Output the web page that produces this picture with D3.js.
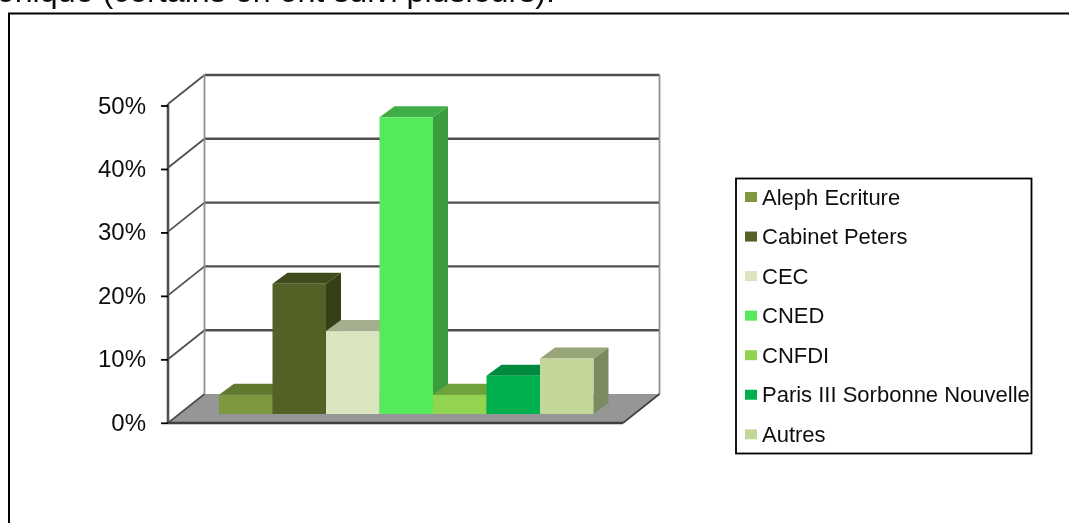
<!DOCTYPE html>
<html>
<head>
<meta charset="utf-8">
<script src="https://cdn.jsdelivr.net/npm/d3@7"></script>
<style>
html,body{margin:0;padding:0;background:#fff;overflow:hidden;}
svg{display:block;}
text{font-family:"Liberation Sans",Arial,sans-serif;fill:#111;}
</style>
</head>
<body>
<div id="chart"></div>
<script>
let categories = ["Aleph Ecriture","Cabinet Peters","CEC","CNED","CNFDI","Paris III Sorbonne Nouvelle","Autres"];
let values = [3,20.4,13,46.5,3,6,8.7];
let frontColors = ["#7d993f","#526128","#dae5bf","#55ea5b","#92d450","#00b050","#c4d79b"];
let topColors = ["#5f7a2d","#3f4c1c","#a6ae90","#3fae44","#6ea33a","#008a3e","#98a578"];
let sideColors = ["#5a7329","#343f15","#a5ad8e","#3a9c3f","#689a36","#007a36","#7c8a60"];
let yTicks = [0,10,20,30,40,50];

let width = 1069, height = 523;

let svg = d3.select("#chart").append("svg")
    .attr("width", width)
    .attr("height", height);

let defs = svg.append("defs");
defs.append("filter").attr("id","soft")
    .attr("x","-5%").attr("y","-5%").attr("width","110%").attr("height","110%")
    .append("feGaussianBlur").attr("stdDeviation",0.65);
defs.append("filter").attr("id","softText")
    .attr("x","-5%").attr("y","-5%").attr("width","110%").attr("height","110%")
    .append("feGaussianBlur").attr("stdDeviation",0.35);

//outer frame, runs off the page at the right and the bottom
svg.append("path")
    .attr("d","M9,"+(height+5)+"V13.4H"+(width+5))
    .attr("fill","none")
    .attr("stroke","#000")
    .attr("stroke-width",2);

//caption above, cut by the top of the page
svg.append("text")
    .attr("x",555)
    .attr("y",1.5)
    .attr("text-anchor","end")
    .attr("font-size",32.2)
    .attr("filter","url(#softText)")
    .text("\u00e9lectronique (certains en ont suivi plusieurs).");

let plot = svg.append("g").attr("filter","url(#soft)");

//y goes along the front edge of the box
let y = d3.scaleLinear().domain([0,50]).range([423,104]);
//the tick marks sit a little lower than the wall lines at the top
let yTick = d3.scaleLinear().domain([0,50]).range([423.3,106]);
let floorLeft = 168, floorRight = 623;
let depthX = 36.5, depthY = -29;

//floor
plot.append("path")
    .attr("d","M"+floorLeft+","+y(0)+"L"+(floorLeft+depthX)+","+(y(0)+depthY)
        +"H"+(floorRight+depthX)+"L"+floorRight+","+y(0)+"Z")
    .attr("fill","#969696");

//back wall gridlines and the side wall lines
yTicks.forEach(function(d){
    let yBack = y(d)+depthY;
    if(d>0){
        plot.append("line")
            .attr("x1",floorLeft+depthX).attr("x2",floorRight+depthX)
            .attr("y1",yBack).attr("y2",yBack)
            .attr("stroke","#505050").attr("stroke-width",2.4);
    }
    plot.append("line")
        .attr("x1",floorLeft).attr("x2",floorLeft+depthX)
        .attr("y1",y(d)).attr("y2",yBack)
        .attr("stroke","#505050").attr("stroke-width",1.8);
});

//wall verticals
[floorLeft+depthX,floorRight+depthX].forEach(function(xv){
    plot.append("line")
        .attr("x1",xv).attr("x2",xv)
        .attr("y1",y(50)+depthY).attr("y2",y(0)+depthY)
        .attr("stroke","#909090").attr("stroke-width",1.8);
});

//left axis
plot.append("line")
    .attr("x1",floorLeft).attr("x2",floorLeft)
    .attr("y1",y(50)).attr("y2",y(0))
    .attr("stroke","#505050").attr("stroke-width",2.6);
plot.append("line")
    .attr("x1",floorLeft).attr("x2",floorRight)
    .attr("y1",y(0)).attr("y2",y(0))
    .attr("stroke","#404040").attr("stroke-width",2.6);
plot.append("line")
    .attr("x1",floorRight).attr("x2",floorRight+depthX)
    .attr("y1",y(0)).attr("y2",y(0)+depthY)
    .attr("stroke","#404040").attr("stroke-width",1.6);

//tick marks and labels
let axis = svg.append("g").attr("filter","url(#softText)");
axis.selectAll("line")
    .data(yTicks)
    .enter()
    .append("line")
    .attr("x1",floorLeft-7).attr("x2",floorLeft)
    .attr("y1",d => yTick(d)).attr("y2",d => yTick(d))
    .attr("stroke","#000").attr("stroke-width",1.8);

axis.selectAll("text")
    .data(yTicks)
    .enter()
    .append("text")
    .attr("x",146)
    .attr("y",d => yTick(d)+7.5)
    .attr("text-anchor","end")
    .attr("font-size",24)
    .text(d => d+"%");

//bars stand on a plane set back from the front edge
let x = d3.scaleBand().domain(categories).range([219,593.5]).padding(0);
let h = v => y(0)-y(v);
let barBase = 414, barDX = 15, barDY = -11;

let bars = plot.selectAll("g.bar")
    .data(categories)
    .enter()
    .append("g")
    .attr("class","bar");

bars.append("path")
    .attr("d",function(d,i){
        let x1 = x(d)+x.bandwidth(), top = barBase-h(values[i]);
        return "M"+x1+","+barBase+"L"+(x1+barDX)+","+(barBase+barDY)
            +"V"+(top+barDY)+"L"+x1+","+top+"Z";
    })
    .attr("fill",(d,i) => sideColors[i]);

bars.append("path")
    .attr("d",function(d,i){
        let x0 = x(d), x1 = x0+x.bandwidth(), top = barBase-h(values[i]);
        return "M"+x0+","+top+"L"+(x0+barDX)+","+(top+barDY)
            +"H"+(x1+barDX)+"L"+x1+","+top+"Z";
    })
    .attr("fill",(d,i) => topColors[i]);

bars.append("rect")
    .attr("x",d => x(d))
    .attr("width",x.bandwidth())
    .attr("y",(d,i) => barBase-h(values[i]))
    .attr("height",(d,i) => h(values[i]))
    .attr("fill",(d,i) => frontColors[i]);

//legend
let legend = svg.append("g").attr("filter","url(#softText)");
legend.append("rect")
    .attr("x",736).attr("y",178.5)
    .attr("width",295.5).attr("height",275)
    .attr("fill","#fff").attr("stroke","#000").attr("stroke-width",1.8);

let legendY = d3.scalePoint().domain(categories).range([197,434.3]);

legend.selectAll("rect.key")
    .data(categories)
    .enter()
    .append("rect")
    .attr("class","key")
    .attr("x",745)
    .attr("y",d => legendY(d)-5)
    .attr("width",12).attr("height",10)
    .attr("fill",(d,i) => frontColors[i]);

legend.selectAll("text")
    .data(categories)
    .enter()
    .append("text")
    .attr("x",762)
    .attr("y",d => legendY(d)+7.5)
    .attr("font-size",22)
    .text(d => d);
</script>
</body>
</html>
